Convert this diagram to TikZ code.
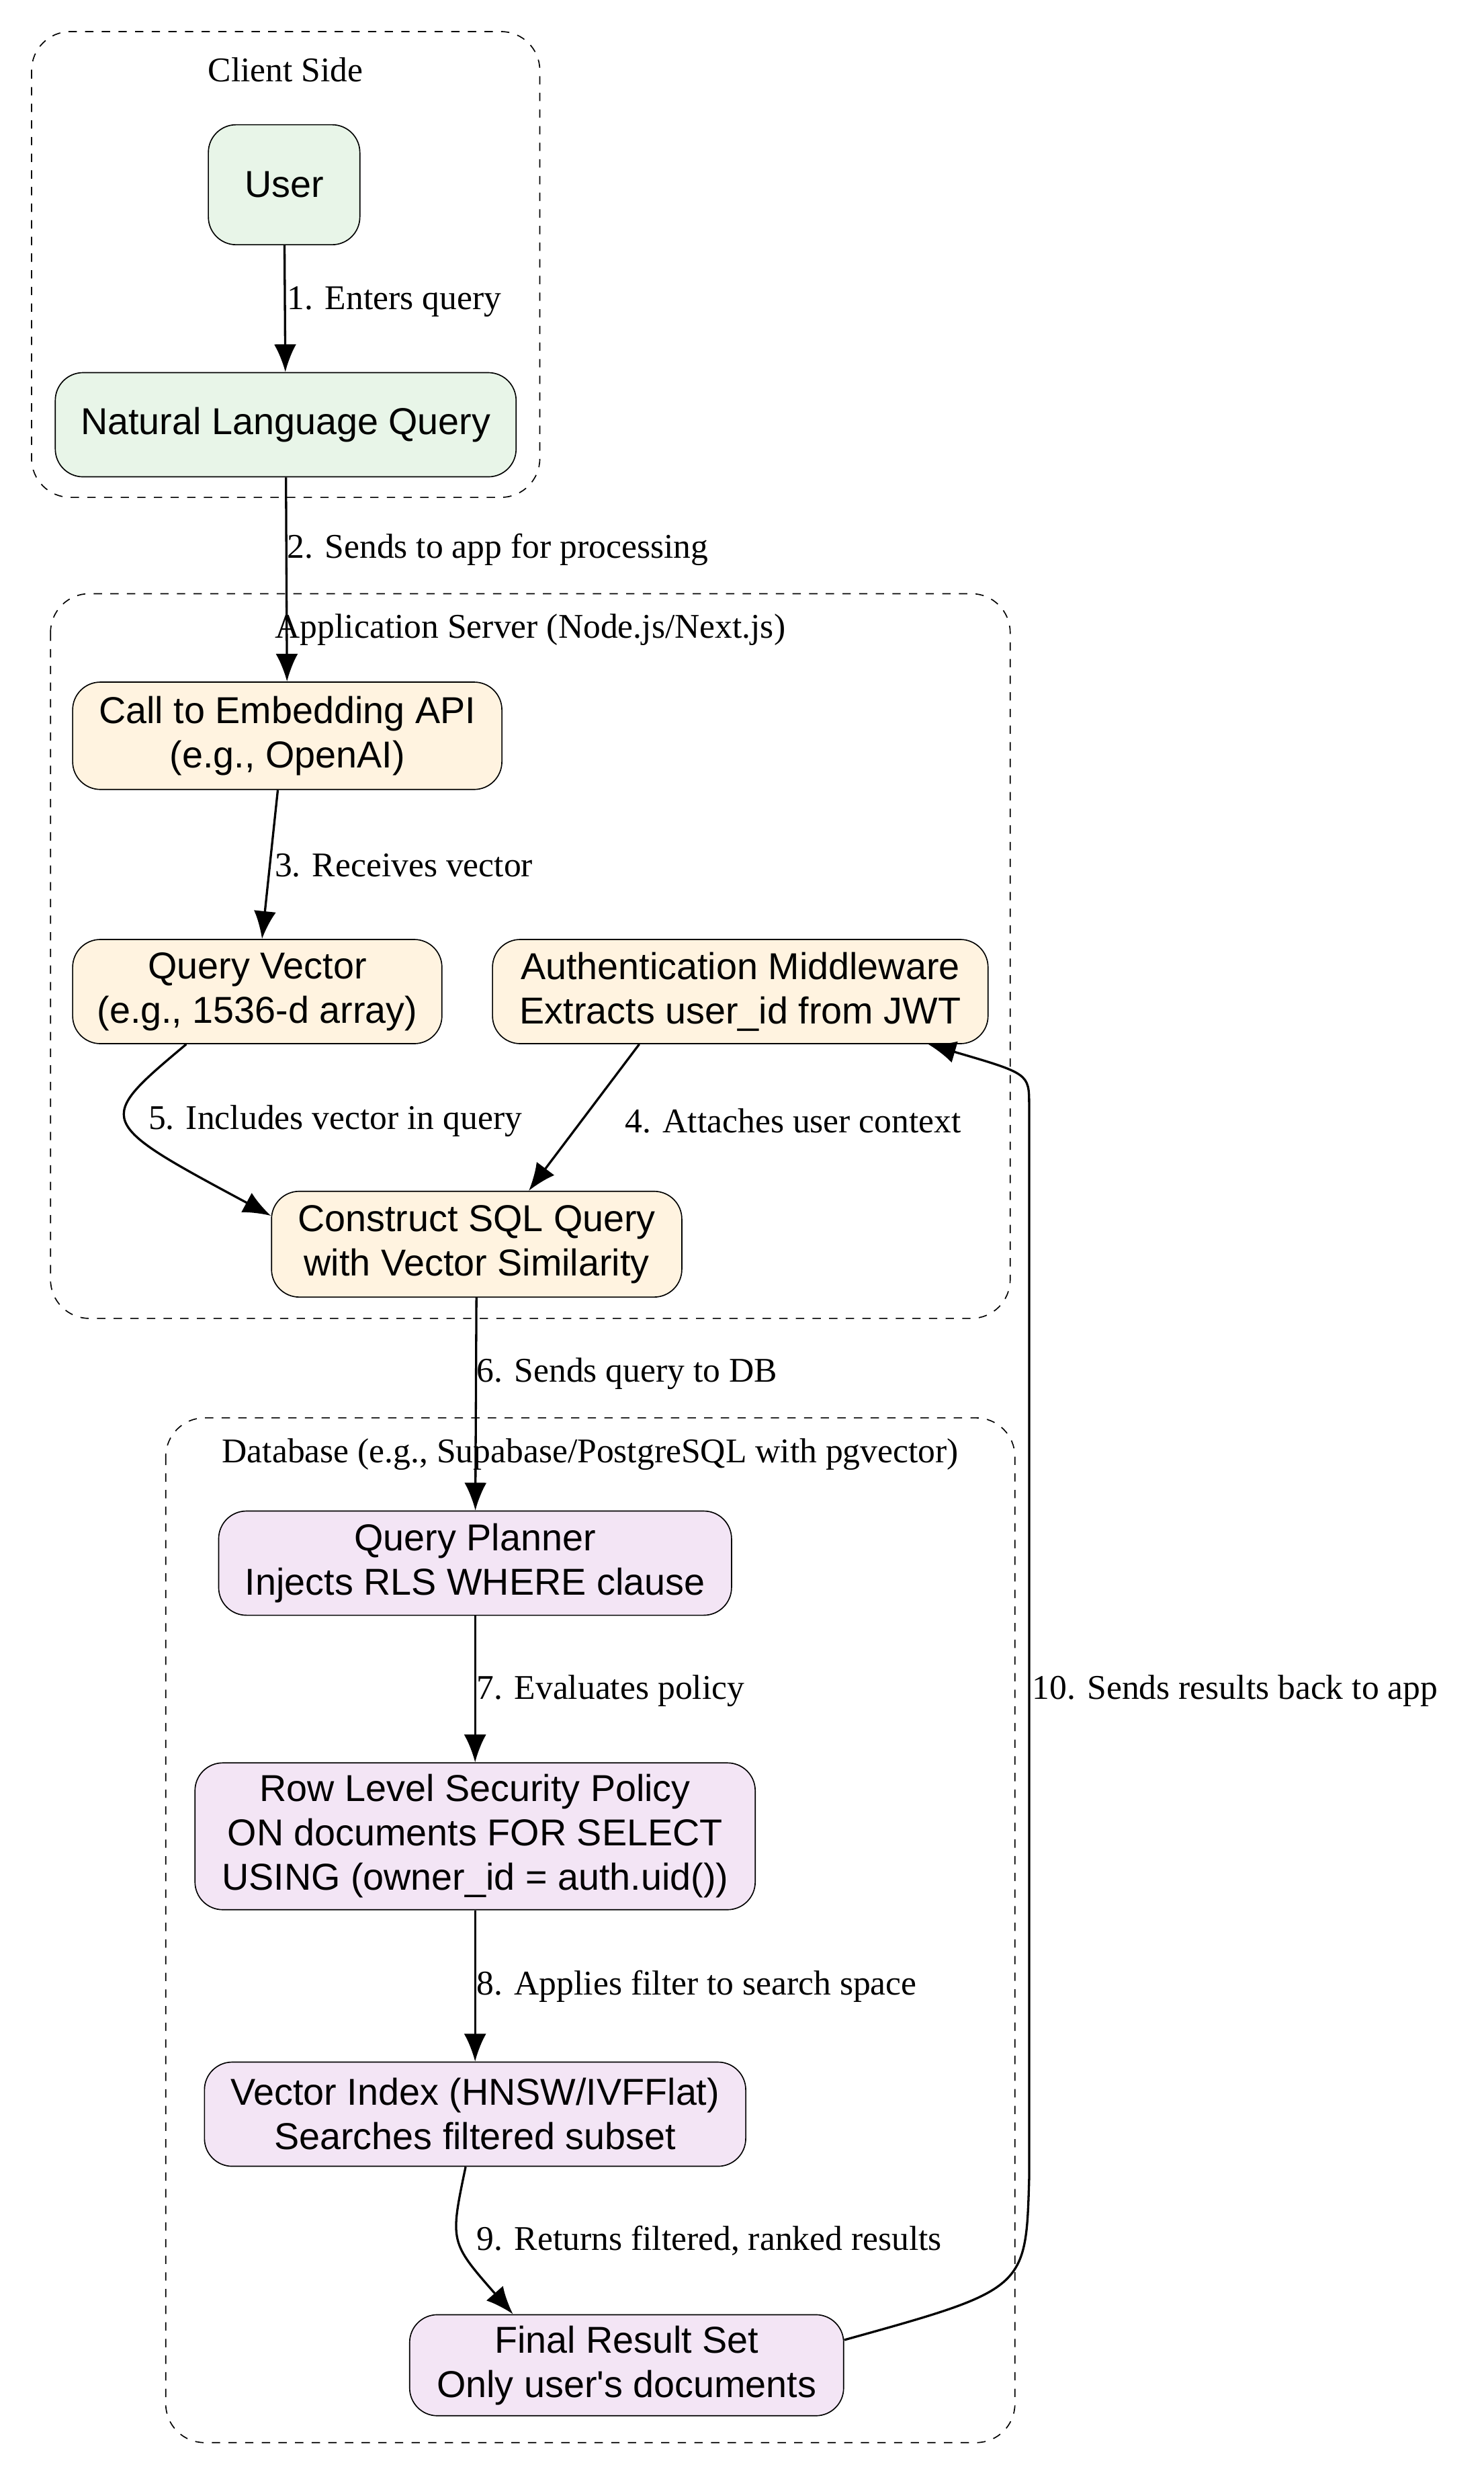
\documentclass[tikz,border=0pt]{standalone}
\usepackage{fontspec}
\setmainfont{Liberation Serif}
\newfontfamily\boxfont{Liberation Sans}
\usetikzlibrary{arrows.meta,positioning}
\definecolor{clientfill}{HTML}{E8F5E8}
\definecolor{appfill}{HTML}{FFF3E0}
\definecolor{dbfill}{HTML}{F3E5F5}

\begin{document}
\begin{tikzpicture}[x=0.02cm,y=-0.02cm,
  stagebox/.style={draw, rounded corners=10pt, align=center, font=\boxfont\fontsize{13.5}{16}\selectfont, inner sep=2pt},
  cluster/.style={draw, dashed, rounded corners=14pt},
  lbl/.style={font=\fontsize{12.5}{15}\selectfont, anchor=west, inner sep=1pt},
  flow/.style={-{Latex[length=10pt,width=8pt]}, thick}]
\useasboundingbox (0,0) rectangle (940,1565);

% CLUSTERS

\draw[cluster] (20,20) rectangle (342,315);
\node[font=\fontsize{12.5}{15}\selectfont] (clienttitle) at (181,44) {Client Side};
\draw[cluster] (32,376) rectangle (640,835);
\node[font=\fontsize{12.5}{15}\selectfont] (apptitle) at (336,399) {Application Server (Node.js/Next.js)};
\draw[cluster] (105,898) rectangle (643,1547);
\node[font=\fontsize{12.5}{15}\selectfont] (dbtitle) at (374,921) {Database (e.g., Supabase/PostgreSQL with pgvector)};

% NODES

\node[stagebox, fill=clientfill, minimum width=1.92cm, minimum height=1.52cm] (user) at (180,117) {User};
\node[stagebox, fill=clientfill, minimum width=5.84cm, minimum height=1.32cm] (nlquery) at (181,269) {Natural Language Query};

\node[stagebox, fill=appfill, minimum width=5.44cm, minimum height=1.36cm] (embed) at (182,466) {Call to Embedding API\\(e.g., OpenAI)};
\node[stagebox, fill=appfill, minimum width=4.68cm, minimum height=1.32cm] (qvector) at (163,628) {Query Vector\\(e.g., 1536-d array)};
\node[stagebox, fill=appfill, minimum width=6.28cm, minimum height=1.32cm] (auth) at (469,628) {Authentication Middleware\\Extracts user\_id from JWT};
\node[stagebox, fill=appfill, minimum width=5.2cm, minimum height=1.34cm] (construct) at (302,788) {Construct SQL Query\\with Vector Similarity};

\node[stagebox, fill=dbfill, minimum width=6.5cm, minimum height=1.32cm] (planner) at (301,990) {Query Planner\\Injects RLS WHERE clause};
\node[stagebox, fill=dbfill, minimum width=7.1cm, minimum height=1.86cm] (rls) at (301,1163) {Row Level Security Policy\\ON documents FOR SELECT\\USING (owner\_id = auth.uid())};
\node[stagebox, fill=dbfill, minimum width=6.86cm, minimum height=1.32cm] (vindex) at (301,1339) {Vector Index (HNSW/IVFFlat)\\Searches filtered subset};
\node[stagebox, fill=dbfill, minimum width=5.5cm, minimum height=1.28cm] (result) at (397,1498) {Final Result Set\\Only user's documents};

% EDGES

\draw[flow] (user) -- (nlquery);
\node[lbl] (l1) at (180,191) {1. Enters query};
\draw[flow] (nlquery) -- (embed);
\node[lbl] (l2) at (180,348) {2. Sends to app for processing};
\draw[flow] (embed.south -| 176,0) -- (qvector.north -| 166,0);
\node[lbl] (l3) at (172,548) {3. Receives vector};
\draw[flow] (auth.south -| 405,0) -- (construct.north -| 335,0);
\node[lbl] (l4) at (394,710) {4. Attaches user context};
\draw[flow] (qvector.south -| 118,0) .. controls (60,710) .. (construct.west |- 0,770);
\node[lbl] (l5) at (92,710) {5. Includes vector in query};
\draw[flow] (construct) -- (planner);
\node[lbl] (l6) at (300,870) {6. Sends query to DB};
\draw[flow] (planner) -- (rls);
\node[lbl] (l7) at (300,1071) {7. Evaluates policy};
\draw[flow] (rls) -- (vindex);
\node[lbl] (l8) at (300,1258) {8. Applies filter to search space};
\draw[flow] (vindex.south -| 295,0) .. controls (285,1420) .. (result.north -| 325,0);
\node[lbl] (l9) at (300,1419) {9. Returns filtered, ranked results};
\draw[flow] (result.east |- 0,1482) .. controls (650,1450) .. (652,1380) -- (652,700) .. controls (652,680) .. (auth.south east -| 588,0);
\node[lbl] (l10) at (652,1071) {10. Sends results back to app};
\end{tikzpicture}
\end{document}
